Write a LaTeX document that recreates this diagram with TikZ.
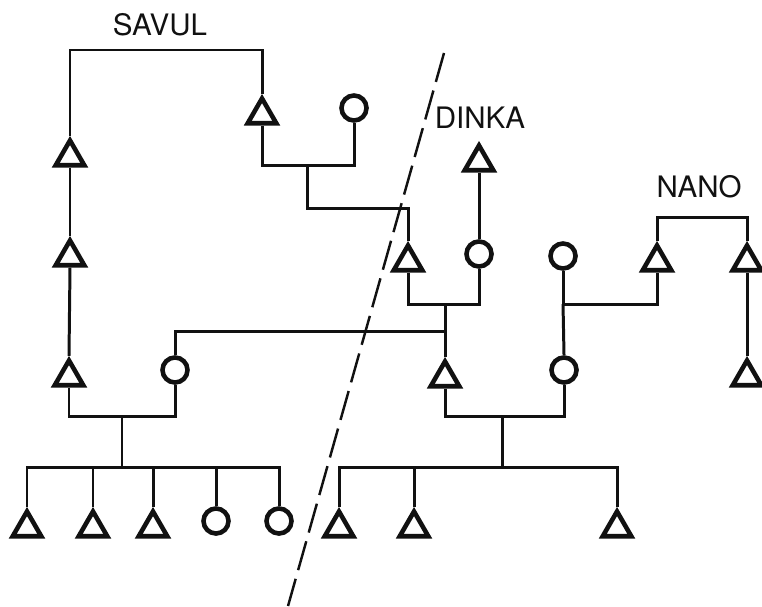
\documentclass[tikz,border=0pt]{standalone}
\usepackage{fontspec}
\setmainfont{TeX Gyre Heros}
\usepackage{tikz}
\usetikzlibrary{shapes.geometric}
\definecolor{ink}{HTML}{111111}
\tikzset{
  male/.style   = {regular polygon, regular polygon sides=3, draw=ink,
                   line width=1.3pt, minimum size=0.33cm, inner sep=0pt},
  female/.style = {circle, draw=ink, line width=1.3pt,
                   minimum size=0.25cm, inner sep=0pt},
  kin/.style    = {draw=ink, line width=0.85pt},
  tribe/.style  = {font=\fontsize{8.4}{10}\selectfont, text=ink},
  cutline/.style= {draw=ink, line width=0.7pt, dash pattern=on 0.3cm off 0.09cm},
}

\begin{document}
\begin{tikzpicture}[x=0.01cm, y=-0.01cm]
  \useasboundingbox (0,0) rectangle (762,606);

  % Dividing line
  \coordinate (cuttop) at (444,53);
  \coordinate (cutbot) at (288,606);
  \draw[cutline] (cuttop) -- (cutbot);

  % Tribe names
  \node[tribe] (savul) at (160,25)  {SAVUL};
  \node[tribe] (dinka) at (480,118) {DINKA};
  \node[tribe] (nano)  at (699,187) {NANO};

  % Savul
  \node[male]   (s1) at (70,157)  {};
  \node[male]   (s2) at (70,257)  {};
  \node[male]   (s3) at (69,377)  {};
  \node[male]   (s4) at (262,115) {};
  \node[female] (c1) at (354,108) {};
  \node[female] (w1) at (175,370) {};

  % Dinka
  \node[male]   (d3) at (479,162) {};
  \node[female] (d2) at (479,254) {};
  \node[male]   (d1) at (408,262) {};
  \node[male]   (m1) at (445,378) {};
  \node[female] (w3) at (563,256) {};
  \node[female] (w2) at (564,370) {};

  % Nano
  \node[male] (n1) at (657,262) {};
  \node[male] (n2) at (747,262) {};
  \node[male] (n3) at (747,377) {};

  % Children, left of the line
  \node[male]   (a1) at (27,528)  {};
  \node[male]   (a2) at (93,528)  {};
  \node[male]   (a3) at (153,528) {};
  \node[female] (a4) at (216,521) {};
  \node[female] (a5) at (279,521) {};

  % Children, right of the line
  \node[male] (b1) at (339,528) {};
  \node[male] (b2) at (414,528) {};
  \node[male] (b3) at (617,528) {};

  % Junctions
  \coordinate (u1)  at (166,50);
  \coordinate (u2)  at (307,165);
  \coordinate (u3)  at (307,208);
  \coordinate (u4)  at (445,304);
  \coordinate (u5)  at (445,331);
  \coordinate (u6)  at (502,416);
  \coordinate (u7)  at (502,467);
  \coordinate (u8)  at (122,416);
  \coordinate (u9)  at (122,467);
  \coordinate (u10) at (563,304);
  \coordinate (u11) at (702,217);

  % Links
  \draw[kin] (s1.north) |- (u1) -| (s4.north);
  \draw[kin] (s1.south) -- (s2.north);
  \draw[kin] (s2.south) -- (s3.north);
  \draw[kin] (s4.south) |- (u2) -| (c1.south);
  \draw[kin] (u2) -- (u3) -| (d1.north);

  \draw[kin] (d3.south) -- (d2.north);
  \draw[kin] (d1.south) |- (u4) -| (d2.south);
  \draw[kin] (u4) -- (m1.north);
  \draw[kin] (w1.north) |- (u5);
  \draw[kin] (m1.south) |- (u6) -| (w2.south);
  \draw[kin] (u6) -- (u7);
  \draw[kin] (u7) -| (b1.north);
  \draw[kin] (u7) -| (b2.north);
  \draw[kin] (u7) -| (b3.north);

  \draw[kin] (s3.south) |- (u8) -| (w1.south);
  \draw[kin] (u8) -- (u9);
  \draw[kin] (u9) -| (a1.north);
  \draw[kin] (u9) -| (a2.north);
  \draw[kin] (u9) -| (a3.north);
  \draw[kin] (u9) -| (a4.north);
  \draw[kin] (u9) -| (a5.north);

  \draw[kin] (w3.south) -- (u10) -| (n1.south);
  \draw[kin] (u10) -- (w2.north);
  \draw[kin] (n1.north) |- (u11) -| (n2.north);
  \draw[kin] (n2.south) -- (n3.north);

\end{tikzpicture}
\end{document}
